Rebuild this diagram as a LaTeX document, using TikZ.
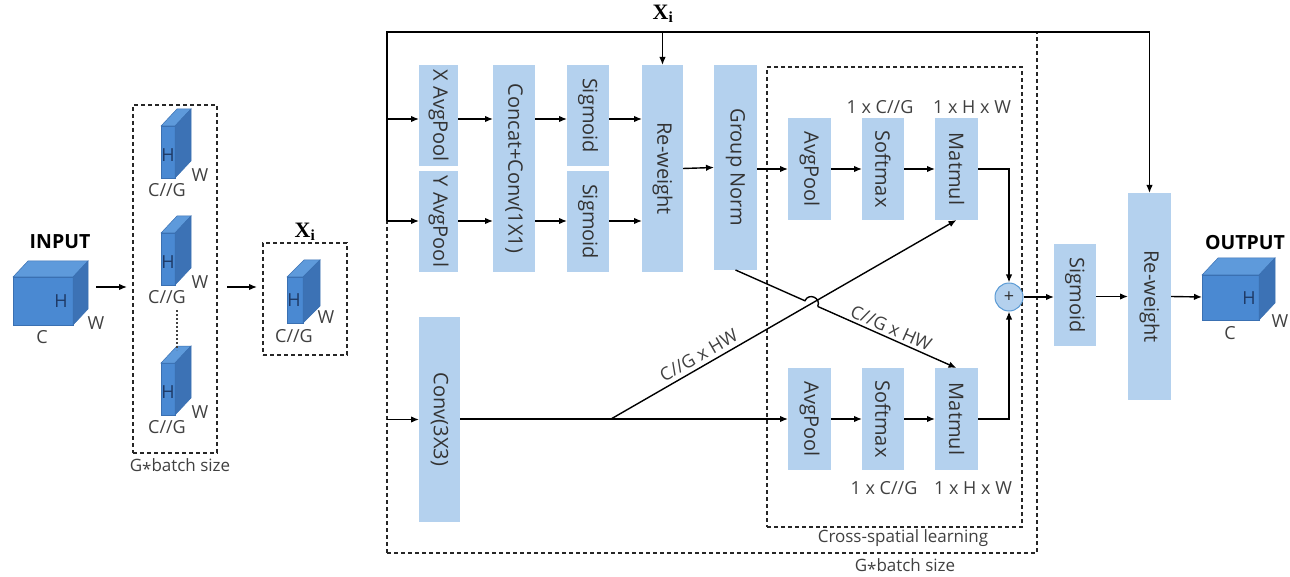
\documentclass[tikz,border=0pt]{standalone}
\usepackage{fontspec}
\setmainfont{Open Sans}
\newfontfamily\xfont{Liberation Serif}
\usetikzlibrary{arrows.meta,calc}

\definecolor{boxblue}{HTML}{B4D1EE}
\definecolor{txt}{HTML}{333333}
\definecolor{lbl}{HTML}{404040}
\definecolor{cubefront}{HTML}{4A89D2}
\definecolor{cubetop}{HTML}{5E9ADB}
\definecolor{cubeside}{HTML}{3C72B5}
\definecolor{cubeedge}{HTML}{3A70B2}
\definecolor{hnavy}{HTML}{1F3A66}
\definecolor{circedge}{HTML}{5B9BD5}

\newcommand\boxfont{\fontsize{20}{24}\selectfont}
\newcommand\notefont{\fontsize{17}{20}\selectfont}
\newcommand\smallfont{\fontsize{18}{21}\selectfont}

% cube: left x, bottom y, width, height, depth dx, depth dy (upwards)
\newcommand\cubeblock[6]{%
  \filldraw[cubefront, draw=cubeedge, line width=0.5pt] (#1,#2) rectangle (#1+#3,#2-#4);
  \filldraw[cubetop, draw=cubeedge, line width=0.5pt]
    (#1,#2-#4) -- (#1+#5,#2-#4-#6) -- (#1+#3+#5,#2-#4-#6) -- (#1+#3,#2-#4) -- cycle;
  \filldraw[cubeside, draw=cubeedge, line width=0.5pt]
    (#1+#3,#2-#4) -- (#1+#3+#5,#2-#4-#6) -- (#1+#3+#5,#2-#6) -- (#1+#3,#2) -- cycle;
}

\tikzset{
  blk/.style 2 args={fill=boxblue, draw=none, minimum width=#1pt, minimum height=#2pt,
    inner sep=0pt, outer sep=0pt, text=txt, font=\boxfont},
  arr/.style={-{Latex[length=8pt,width=6.5pt]}, line width=1.4pt, draw=black},
  line/.style={line width=1.4pt, draw=black},
  dashbox/.style={draw=black!85, line width=1.1pt, dash pattern=on 4pt off 3pt,
    inner sep=0pt, outer sep=0pt},
  note/.style={text=lbl, font=\notefont, inner sep=1pt},
  dimlbl/.style={text=lbl, font=\smallfont, inner sep=1pt},
  hl/.style={text=hnavy, font=\smallfont, inner sep=0pt},
  title/.style={text=black, font=\fontsize{19.5}{23}\selectfont\bfseries, inner sep=0pt},
  xlbl/.style={inner sep=0pt, font=\fontsize{22}{26}\selectfont\xfont\bfseries},
}

\begin{document}
\begin{tikzpicture}[x=1pt, y=-1pt]
\useasboundingbox (0,0) rectangle (1290,577);

% ---------- input tensor ----------
\node[title] (intitle) at (60,242) {INPUT};
\cubeblock{13}{325}{60}{48}{15}{16}
\node[hl] (inH) at (61,301) {H};
\node[dimlbl] (inW) at (96,323) {W};
\node[dimlbl] (inC) at (42,337) {C};
\coordinate (inR) at (96,287);

% ---------- grouped sub-features ----------
\node[dashbox, minimum width=84pt, minimum height=348pt] (grp) at (175,279) {};
\cubeblock{161}{178}{14}{52}{16}{17}
\node[hl] (g1H) at (168,155) {H};
\node[dimlbl] (g1W) at (200,175) {W};
\node[dimlbl] (g1C) at (167,190) {C//G};
\cubeblock{161}{285}{14}{52}{16}{17}
\node[hl] (g2H) at (168,262) {H};
\node[dimlbl] (g2W) at (200,282) {W};
\node[dimlbl] (g2C) at (167,297) {C//G};
\cubeblock{161}{415}{14}{52}{16}{17}
\node[hl] (g3H) at (168,392) {H};
\node[dimlbl] (g3W) at (200,412) {W};
\node[dimlbl] (g3C) at (167,427) {C//G};
\coordinate (dotA) at (177,310);
\coordinate (dotB) at (177,350);
\draw[line width=1.6pt, dash pattern=on 1.6pt off 2.4pt, lbl] (dotA) -- (dotB);
\node[note] (grplbl) at (180,467) {G\raisebox{-0.35ex}{*}batch size};

% ---------- single group X_i ----------
\node[dashbox, minimum width=84pt, minimum height=112pt] (xib) at (305,299) {};
\node[xlbl] (xilbl) at (305,232) {X\textsubscript{i}};
\cubeblock{287}{323}{16}{46}{17}{17}
\node[hl] (xiH) at (294,300) {H};
\node[dimlbl] (xiW) at (326,317) {W};
\node[dimlbl] (xiC) at (294,336) {C//G};

\draw[arr] (inR) -- ($(grp.west |- inR)+(-6,0)$);
\draw[arr] ($(grp.east |- inR)+(10,0)$) -- ($(xib.west |- inR)+(-6,0)$);

% ---------- outer and inner dashed frames ----------
\node[dashbox, minimum width=650pt, minimum height=521pt] (big) at (712,292.5) {};
\node[dashbox, minimum width=255pt, minimum height=460pt] (cross) at (894.5,297) {};
\node[note] (crosslbl) at (903,538) {Cross-spatial learning};
\node[note] (biglbl) at (905,567) {G\raisebox{-0.35ex}{*}batch size};

% ---------- processing blocks ----------
\node[blk={39}{101}] (xap) at (438.5,115.5) {\rotatebox{-90}{X AvgPool}};
\node[blk={39}{101}] (yap) at (438.5,221.5) {\rotatebox{-90}{Y AvgPool}};
\node[blk={42}{207}] (cc)  at (514,168.5)   {\rotatebox{-90}{Concat+Conv(1X1)}};
\node[blk={42}{101}] (sg1) at (588,115.5)   {\rotatebox{-90}{Sigmoid}};
\node[blk={42}{101}] (sg2) at (588,221.5)   {\rotatebox{-90}{Sigmoid}};
\node[blk={41}{207}] (rw1) at (662.5,168.5) {\rotatebox{-90}{Re-weight}};
\node[blk={43}{205}] (gn)  at (735.5,167.5) {\rotatebox{-90}{Group Norm}};
\node[blk={43}{102}] (ap1) at (809.5,169)   {\rotatebox{-90}{AvgPool}};
\node[blk={42}{102}] (sm1) at (883,169)     {\rotatebox{-90}{Softmax}};
\node[blk={43}{102}] (mm1) at (956.5,169)   {\rotatebox{-90}{Matmul}};
\node[blk={41}{205}] (conv) at (439.5,419.5) {\rotatebox{-90}{Conv(3X3)}};
\node[blk={43}{102}] (ap2) at (809.5,419)   {\rotatebox{-90}{AvgPool}};
\node[blk={42}{102}] (sm2) at (883,419)     {\rotatebox{-90}{Softmax}};
\node[blk={43}{102}] (mm2) at (956.5,419)   {\rotatebox{-90}{Matmul}};
\node[circle, fill=boxblue, draw=circedge, line width=1pt, minimum size=28pt, inner sep=0pt,
      text=txt, font=\smallfont] (plus) at (1009,297) {+};
\node[blk={42}{102}] (sg3) at (1075,295)    {\rotatebox{-90}{Sigmoid}};
\node[blk={43}{207}] (rw2) at (1149.5,296.5) {\rotatebox{-90}{Re-weight}};

\node[dimlbl] (d1) at (880,107) {1 x C//G};
\node[dimlbl] (d2) at (972,107) {1 x H x W};
\node[dimlbl] (d3) at (884,488) {1 x C//G};
\node[dimlbl] (d4) at (973,488) {1 x H x W};

% ---------- output tensor ----------
\node[title] (outtitle) at (1245,243) {OUTPUT};
\cubeblock{1202}{320}{57}{45}{16}{17}
\node[hl] (outH) at (1249,298) {H};
\node[dimlbl] (outW) at (1280,321) {W};
\node[dimlbl] (outC) at (1230,333) {C};
\coordinate (outL) at (1202,297);

% ---------- connectors ----------
\coordinate (r1) at (0,119);
\coordinate (r2) at (0,221);
\node[xlbl] (xtop) at (663,14) {X\textsubscript{i}};

% shortcut branch: top line to the final re-weight
\draw[arr] (big.west |- r2) -- (big.north west) -| (rw2.north);
\draw[arr] (rw1.north |- big.north) -- (rw1.north);
\draw[arr] (big.west |- r1) -- (xap.west |- r1);
\draw[arr] (big.west |- r2) -- (yap.west |- r2);
\draw[arr] (xap.east |- r1) -- (cc.west |- r1);
\draw[arr] (yap.east |- r2) -- (cc.west |- r2);
\draw[arr] (cc.east |- r1) -- (sg1.west |- r1);
\draw[arr] (cc.east |- r2) -- (sg2.west |- r2);
\draw[arr] (sg1.east |- r1) -- (rw1.west |- r1);
\draw[arr] (sg2.east |- r2) -- (rw1.west |- r2);
\draw[arr] (rw1.east) -- (gn.west);
\draw[arr] (gn.east |- ap1) -- (ap1.west);
\draw[arr] (ap1.east) -- (sm1.west);
\draw[arr] (sm1.east) -- (mm1.west);
\draw[arr] (mm1.east) -| (plus.north);

\draw[arr] (big.west |- conv) -- (conv.west);
\draw[arr] (conv.east |- ap2) -- (ap2.west);
\draw[arr] (ap2.east) -- (sm2.west);
\draw[arr] (sm2.east) -- (mm2.west);
\draw[arr] (mm2.east) -| (plus.south);

% cross paths between the two branches
\coordinate (split) at (611,419);
\draw[arr] (split) -- node[dimlbl, sloped, above=3pt, pos=0.27] (c1) {C//G x HW} (mm1.south);
\coordinate (X) at (intersection of gn.south--mm2.north and split--mm1.south);
\coordinate (hopA) at ($(X)!7pt!(gn.south)$);
\coordinate (hopB) at ($(X)!7pt!(mm2.north)$);
\draw[line] (gn.south) -- (hopA)
  .. controls ($(hopA)!9.3pt!90:(hopB)$) and ($(hopB)!9.3pt!-90:(hopA)$) .. (hopB);
\draw[arr] (hopB) -- node[dimlbl, sloped, above=2pt, pos=0.5] (c2) {C//G x HW} (mm2.north);

\draw[arr] (plus.east) -- (plus.east -| sg3.west);
\draw[arr] (sg3.east |- rw2) -- (rw2.west);
\draw[arr] (rw2.east) -- (outL);
\end{tikzpicture}
\end{document}
